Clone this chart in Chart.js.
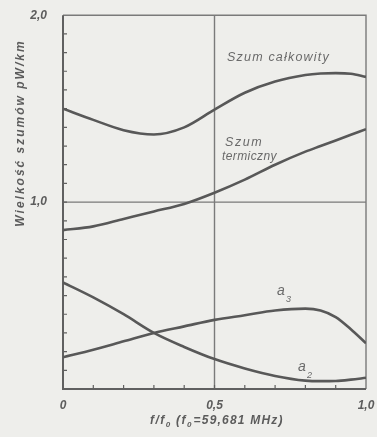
<!DOCTYPE html>
<html>
<head>
<meta charset="utf-8">
<script src="https://cdn.jsdelivr.net/npm/chart.js@4/dist/chart.umd.min.js"></script>
<style>
  body { margin: 0; background: #eeeeeb; }
  canvas { display: block; }
</style>
</head>
<body>
<canvas id="chart" width="377" height="437"></canvas>
<script>
// f/f0
const fValues = [0, 0.1, 0.2, 0.3, 0.4, 0.5, 0.6, 0.7, 0.8, 0.85, 0.9, 0.95, 1.0];
// noise, pW/km
const szumCalkowity = [1.50, 1.44, 1.385, 1.362, 1.40, 1.495, 1.585, 1.645, 1.68, 1.688, 1.69, 1.687, 1.67];
const szumTermiczny = [0.85, 0.87, 0.91, 0.95, 0.99, 1.05, 1.12, 1.20, 1.27, 1.30, 1.33, 1.36, 1.39];
const a2 = [0.57, 0.49, 0.40, 0.30, 0.225, 0.16, 0.11, 0.07, 0.045, 0.042, 0.043, 0.05, 0.06];
const a3 = [0.17, 0.21, 0.255, 0.30, 0.335, 0.37, 0.395, 0.42, 0.43, 0.42, 0.385, 0.32, 0.245];

const xTickLabels = { '0': '0', '0.5': '0,5', '1': '1,0' };
const yTickLabels = { '1': '1,0', '2': '2,0' };

const lineColor = '#585858';
const frameColor = '#7a7a7a';
const textColor = '#5c5c5c';
const fontFamily = '"Liberation Sans", Arial, sans-serif';

function pts(ys) {
  return fValues.map((f, i) => ({ x: f, y: ys[i] }));
}

function series(ys) {
  return {
    data: pts(ys),
    borderColor: lineColor,
    borderWidth: 2.6,
    pointRadius: 0,
    cubicInterpolationMode: 'monotone',
    fill: false
  };
}

function txt(ctx, s, x, y, size, spacing, align, weight) {
  ctx.font = 'italic ' + (weight || 'bold') + ' ' + size + 'px ' + fontFamily;
  ctx.letterSpacing = spacing + 'px';
  ctx.textAlign = align || 'left';
  ctx.textBaseline = 'middle';
  ctx.fillText(s, x, y);
  return ctx.measureText(s).width;
}

//grid, frame and inward ticks
const framePlugin = {
  id: 'frame',
  beforeDatasetsDraw(chart) {
    const ctx = chart.ctx;
    const xs = chart.scales.x, ys = chart.scales.y;
    const l = xs.getPixelForValue(0), r = xs.getPixelForValue(1);
    const t = ys.getPixelForValue(2), b = ys.getPixelForValue(0);
    ctx.save();
    ctx.strokeStyle = frameColor;
    ctx.lineWidth = 1.4;
    ctx.beginPath();
    ctx.moveTo(l, t); ctx.lineTo(r, t); ctx.lineTo(r, b);
    const y1 = ys.getPixelForValue(1);
    ctx.moveTo(l, y1); ctx.lineTo(r, y1);
    const x5 = xs.getPixelForValue(0.5);
    ctx.moveTo(x5, t); ctx.lineTo(x5, b);
    ctx.stroke();
    ctx.strokeStyle = '#606060';
    ctx.lineWidth = 2;
    ctx.beginPath();
    ctx.moveTo(l, t); ctx.lineTo(l, b); ctx.lineTo(r, b);
    ctx.stroke();
    ctx.lineWidth = 1.2;
    ctx.beginPath();
    for (let i = 1; i < 20; i++) {
      const y = ys.getPixelForValue(i / 10);
      ctx.moveTo(l, y); ctx.lineTo(l + 4, y);
    }
    for (let i = 1; i < 10; i++) {
      const x = xs.getPixelForValue(i / 10);
      ctx.moveTo(x, b); ctx.lineTo(x, b - 4);
    }
    ctx.stroke();
    ctx.restore();
  },
  afterDraw(chart) {
    const ctx = chart.ctx;
    ctx.save();
    ctx.fillStyle = textColor;
    // y axis title
    ctx.save();
    ctx.translate(21, 133);
    ctx.rotate(-Math.PI / 2);
    txt(ctx, 'Wielkość szumów pW/km', 0, 0, 12, 2, 'center');
    ctx.restore();
    // x axis title with subscripts
    let x = 150, y = 421;
    x += txt(ctx, 'f/f', x, y, 12, 1.5);
    x += txt(ctx, '0', x, y + 4, 8, 1);
    x += txt(ctx, ' (f', x, y, 12, 1.5);
    x += txt(ctx, '0', x, y + 4, 8, 1);
    txt(ctx, '=59,681 MHz)', x + 1, y, 12, 1.2);
    // curve labels
    ctx.fillStyle = '#6a6a6a';
    txt(ctx, 'Szum całkowity', 227, 58, 12.5, 1.2, 'left', 'normal');
    txt(ctx, 'Szum', 225, 143, 12.5, 1.6, 'left', 'normal');
    txt(ctx, 'termiczny', 222, 157, 12, 0.4, 'left', 'normal');
    txt(ctx, 'a', 277, 291, 14, 0, 'left', 'normal');
    txt(ctx, '3', 286, 299, 9, 0, 'left', 'normal');
    txt(ctx, 'a', 298, 367, 14, 0, 'left', 'normal');
    txt(ctx, '2', 307, 375, 9, 0, 'left', 'normal');
    ctx.restore();
  }
};

const tickFont = { family: fontFamily, style: 'italic', weight: 'bold', size: 12 };

new Chart(document.getElementById('chart').getContext('2d'), {
  type: 'line',
  data: {
    datasets: [series(szumCalkowity), series(szumTermiczny), series(a2), series(a3)]
  },
  options: {
    responsive: false,
    animation: false,
    devicePixelRatio: 1,
    layout: { padding: { top: 14, right: 11, left: 0, bottom: 0 } },
    plugins: { legend: { display: false }, tooltip: { enabled: false } },
    scales: {
      x: {
        type: 'linear', min: 0, max: 1,
        grid: { display: false },
        border: { display: false },
        afterFit: (s) => { s.height = 48; },
        ticks: {
          stepSize: 0.1, autoSkip: false, maxRotation: 0, padding: 1,
          color: textColor, font: tickFont,
          callback: (v) => xTickLabels[String(Math.round(v * 10) / 10)] || ''
        }
      },
      y: {
        type: 'linear', min: 0, max: 2,
        grid: { display: false },
        border: { display: false },
        afterFit: (s) => { s.width = 63; },
        ticks: {
          stepSize: 0.1, autoSkip: false, padding: 8,
          color: textColor, font: tickFont,
          callback: (v) => yTickLabels[String(Math.round(v * 10) / 10)] || ''
        }
      }
    }
  },
  plugins: [framePlugin]
});
</script>
</body>
</html>
